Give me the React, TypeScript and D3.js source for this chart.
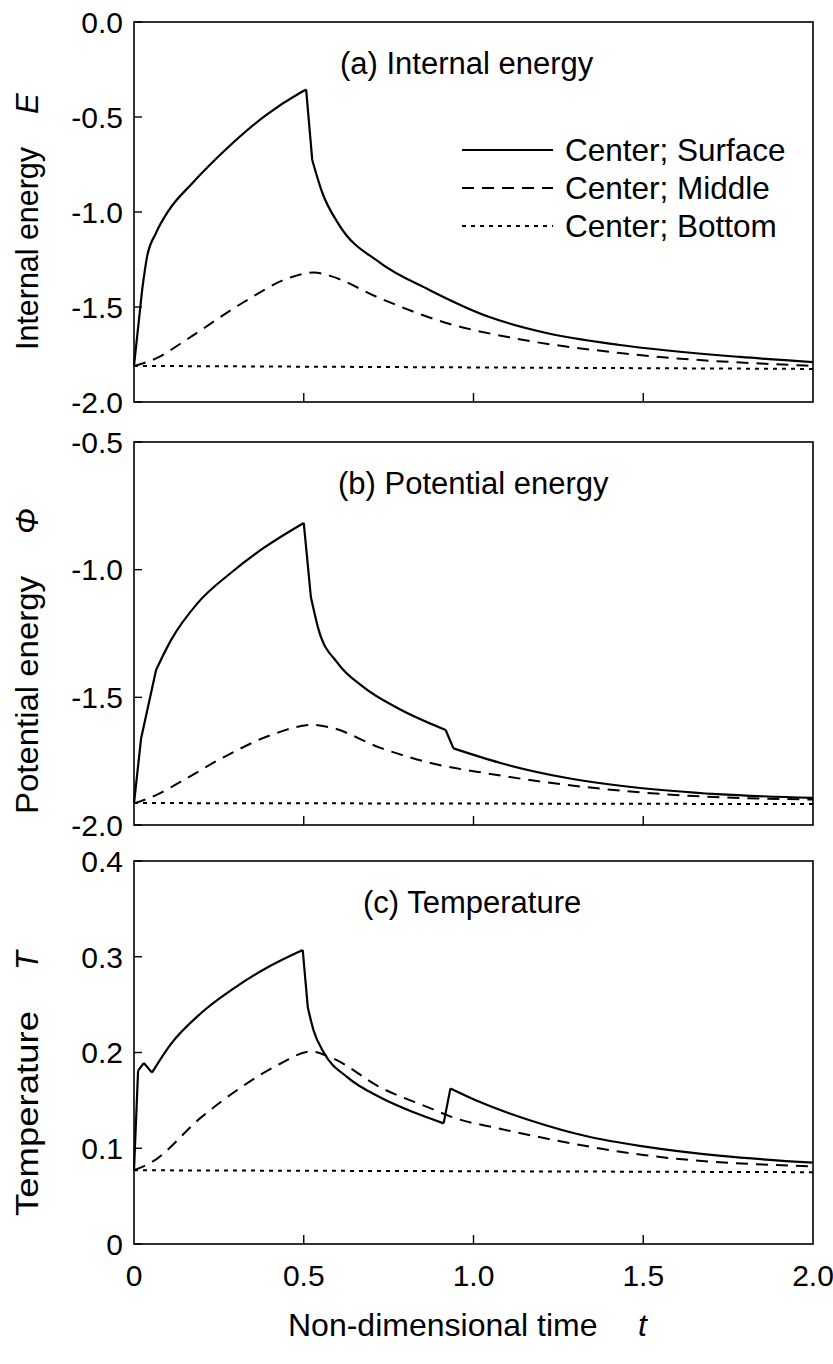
import React from "react";
import * as d3 from "d3";

// ---------- data ----------
const xTicks = [0, 0.5, 1.0, 1.5, 2.0];
const xTickLabels = ["0", "0.5", "1.0", "1.5", "2.0"];

const seriesNames = ["Center; Surface", "Center; Middle", "Center; Bottom"];

// (a) Internal energy E
const tSurfaceA = [0, 0.024, 0.038, 0.065, 0.103, 0.171, 0.271, 0.389, 0.487, 0.507, 0.525, 0.555, 0.605, 0.723, 0.87, 1.047, 1.215, 1.431, 1.785, 2.0];
const vSurfaceA = [-1.81, -1.41, -1.24, -1.11, -0.99, -0.85, -0.67, -0.49, -0.375, -0.355, -0.726, -0.9, -1.07, -1.265, -1.41, -1.553, -1.637, -1.7, -1.763, -1.79];
const kinksSurfaceA = [1, 9, 10];
const tMiddleA = [0, 0.068, 0.153, 0.319, 0.457, 0.53, 0.575, 0.723, 0.92, 1.115, 1.431, 2.0];
const vMiddleA = [-1.81, -1.768, -1.674, -1.479, -1.347, -1.318, -1.335, -1.453, -1.584, -1.663, -1.742, -1.81];
const tBottomA = [0, 1.0, 2.0];
const vBottomA = [-1.81, -1.818, -1.826];

// (b) Potential energy Phi
const tSurfaceB = [0, 0.021, 0.065, 0.109, 0.188, 0.285, 0.382, 0.5, 0.521, 0.544, 0.6, 0.676, 0.776, 0.918, 0.941, 1.079, 1.276, 1.491, 1.718, 2.0];
const vSurfaceB = [-1.915, -1.66, -1.393, -1.276, -1.13, -1.013, -0.915, -0.817, -1.107, -1.236, -1.366, -1.46, -1.542, -1.628, -1.7, -1.757, -1.816, -1.855, -1.879, -1.894];
const kinksSurfaceB = [1, 2, 7, 8, 13, 14];
const tMiddleB = [0, 0.065, 0.138, 0.265, 0.403, 0.526, 0.579, 0.726, 0.874, 1.05, 1.39, 1.67, 2.0];
const vMiddleB = [-1.915, -1.883, -1.83, -1.734, -1.648, -1.608, -1.618, -1.698, -1.757, -1.8, -1.86, -1.888, -1.9];
const tBottomB = [0, 1.0, 2.0];
const vBottomB = [-1.914, -1.916, -1.918];

// (c) Temperature T
const tSurfaceC = [0, 0.012, 0.029, 0.053, 0.109, 0.197, 0.294, 0.394, 0.497, 0.512, 0.529, 0.559, 0.629, 0.726, 0.824, 0.912, 0.932, 1.021, 1.168, 1.34, 1.5, 1.73, 2.0];
const vSurfaceC = [0.077, 0.181, 0.189, 0.179, 0.209, 0.241, 0.267, 0.289, 0.307, 0.247, 0.223, 0.2, 0.174, 0.153, 0.1375, 0.126, 0.1625, 0.148, 0.129, 0.112, 0.102, 0.092, 0.085];
const kinksSurfaceC = [1, 2, 3, 8, 9, 15, 16];
const tMiddleC = [0, 0.05, 0.197, 0.315, 0.432, 0.52, 0.579, 0.726, 0.874, 0.941, 1.071, 1.168, 1.5, 2.0];
const vMiddleC = [0.077, 0.085, 0.132, 0.1635, 0.1885, 0.201, 0.195, 0.1635, 0.1417, 0.132, 0.121, 0.1135, 0.093, 0.081];
const tBottomC = [0, 2.0];
const vBottomC = [0.077, 0.075];

// axes
const yDomainA = [-2.0, 0.0];
const yTicksA = [-2.0, -1.5, -1.0, -0.5, 0.0];
const yDomainB = [-2.0, -0.5];
const yTicksB = [-2.0, -1.5, -1.0, -0.5];
const yDomainC = [0, 0.4];
const yTicksC = [0, 0.1, 0.2, 0.3, 0.4];

// ---------- layout ----------
const W = 833;
const H = 1364;
const X0 = 134;
const X1 = 813;
const FONT = "'Liberation Sans', Arial, Helvetica, sans-serif";

const x = d3.scaleLinear().domain([0, 2]).range([X0, X1]);

function segPath(
  ys: d3.ScaleLinear<number, number>,
  ts: number[],
  vs: number[],
  kinks: number[]
): string {
  const pts: [number, number][] = ts.map((t, i) => [x(t), ys(vs[i])]);
  const line = d3.line().curve(d3.curveMonotoneX);
  const br = [0, ...kinks, pts.length - 1];
  let d = "";
  for (let i = 0; i < br.length - 1; i++) {
    d += line(pts.slice(br[i], br[i + 1] + 1)) || "";
  }
  return d;
}

const DASH_MID = "12,8";
const DASH_BOT = "4,5";

type PanelProps = {
  top: number;
  bottom: number;
  domain: number[];
  ticks: number[];
  fmt: (v: number) => string;
  surface: [number[], number[], number[]];
  middle: [number[], number[]];
  bottomS: [number[], number[]];
  title: string;
  titleX: number;
  ylabel: string;
  ylabelStart: number;
  ylabelLen: number;
  sym: string;
  symStart: number;
  legend?: boolean;
  showXLabels?: boolean;
};

function Panel(p: PanelProps) {
  const y = d3.scaleLinear().domain(p.domain).range([p.bottom, p.top]);
  return (
    <g>
      {/* curves */}
      <path d={segPath(y, p.surface[0], p.surface[1], p.surface[2])} fill="none" stroke="#000" strokeWidth={2.2} strokeLinejoin="miter" />
      <path d={segPath(y, p.middle[0], p.middle[1], [])} fill="none" stroke="#000" strokeWidth={2} strokeDasharray={DASH_MID} />
      <path d={segPath(y, p.bottomS[0], p.bottomS[1], [])} fill="none" stroke="#000" strokeWidth={2} strokeDasharray={DASH_BOT} />
      {/* frame */}
      <rect x={X0} y={p.top} width={X1 - X0} height={p.bottom - p.top} fill="none" stroke="#000" strokeWidth={1.6} />
      {/* y ticks */}
      {p.ticks.map((t, i) => (
        <g key={"yt" + i}>
          <line x1={X0} x2={X0 + 8} y1={y(t)} y2={y(t)} stroke="#000" strokeWidth={1.4} />
          <text x={X0 - 11} y={y(t)} dy="0.36em" textAnchor="end" fontSize={30} fontFamily={FONT}>
            {p.fmt(t)}
          </text>
        </g>
      ))}
      {/* x ticks */}
      {xTicks.slice(1, -1).map((t, i) => (
        <line key={"xt" + i} x1={x(t)} x2={x(t)} y1={p.bottom} y2={p.bottom - 9} stroke="#000" strokeWidth={1.4} />
      ))}
      {p.showXLabels &&
        xTicks.map((t, i) => (
          <text key={"xl" + i} x={x(t)} y={p.bottom + 42} textAnchor="middle" fontSize={30} fontFamily={FONT}>
            {xTickLabels[i]}
          </text>
        ))}
      {/* title */}
      <text x={p.titleX} y={p.top + 52} fontSize={31} fontFamily={FONT}>
        {p.title}
      </text>
      {/* y label */}
      <text
        transform={`translate(38,${p.ylabelStart}) rotate(-90)`}
        fontSize={31}
        fontFamily={FONT}
        textLength={p.ylabelLen}
        lengthAdjust="spacingAndGlyphs"
      >
        {p.ylabel}
      </text>
      <text transform={`translate(38,${p.symStart}) rotate(-90)`} fontSize={31} fontFamily={FONT} fontStyle="italic">
        {p.sym}
      </text>
      {/* legend */}
      {p.legend && (
        <g>
          {seriesNames.map((n, i) => {
            const ly = [150, 188, 226][i];
            const dash = [undefined, DASH_MID, DASH_BOT][i];
            return (
              <g key={n}>
                <line x1={462} x2={553} y1={ly} y2={ly} stroke="#000" strokeWidth={2} strokeDasharray={dash} />
                <text x={565} y={ly} dy="0.36em" fontSize={31.5} fontFamily={FONT}>
                  {n}
                </text>
              </g>
            );
          })}
        </g>
      )}
    </g>
  );
}

const fmt1 = (v: number) => v.toFixed(1);
const fmtC = (v: number) => (v === 0 ? "0" : v.toFixed(1));

export default function App() {
  return (
    <svg width={W} height={H} viewBox={`0 0 ${W} ${H}`} style={{ position: "absolute", left: 0, top: 0, background: "#fff" }}>
      <rect x={0} y={0} width={W} height={H} fill="#fff" />
      <Panel
        top={22}
        bottom={402}
        domain={yDomainA}
        ticks={yTicksA}
        fmt={fmt1}
        surface={[tSurfaceA, vSurfaceA, kinksSurfaceA]}
        middle={[tMiddleA, vMiddleA]}
        bottomS={[tBottomA, vBottomA]}
        title="(a) Internal energy"
        titleX={340}
        ylabel="Internal energy"
        ylabelStart={350}
        ylabelLen={203}
        sym="E"
        symStart={114}
        legend
      />
      <Panel
        top={442}
        bottom={825}
        domain={yDomainB}
        ticks={yTicksB}
        fmt={fmt1}
        surface={[tSurfaceB, vSurfaceB, kinksSurfaceB]}
        middle={[tMiddleB, vMiddleB]}
        bottomS={[tBottomB, vBottomB]}
        title="(b) Potential energy"
        titleX={338}
        ylabel="Potential energy"
        ylabelStart={814}
        ylabelLen={238}
        sym="Φ"
        symStart={534}
      />
      <Panel
        top={861}
        bottom={1244}
        domain={yDomainC}
        ticks={yTicksC}
        fmt={fmtC}
        surface={[tSurfaceC, vSurfaceC, kinksSurfaceC]}
        middle={[tMiddleC, vMiddleC]}
        bottomS={[tBottomC, vBottomC]}
        title="(c) Temperature"
        titleX={363}
        ylabel="Temperature"
        ylabelStart={1216}
        ylabelLen={205}
        sym="T"
        symStart={970}
        showXLabels
      />
      <text x={288} y={1336} fontSize={32} fontFamily={FONT}>
        Non-dimensional time
      </text>
      <text x={638} y={1336} fontSize={32} fontFamily={FONT} fontStyle="italic">
        t
      </text>
    </svg>
  );
}
